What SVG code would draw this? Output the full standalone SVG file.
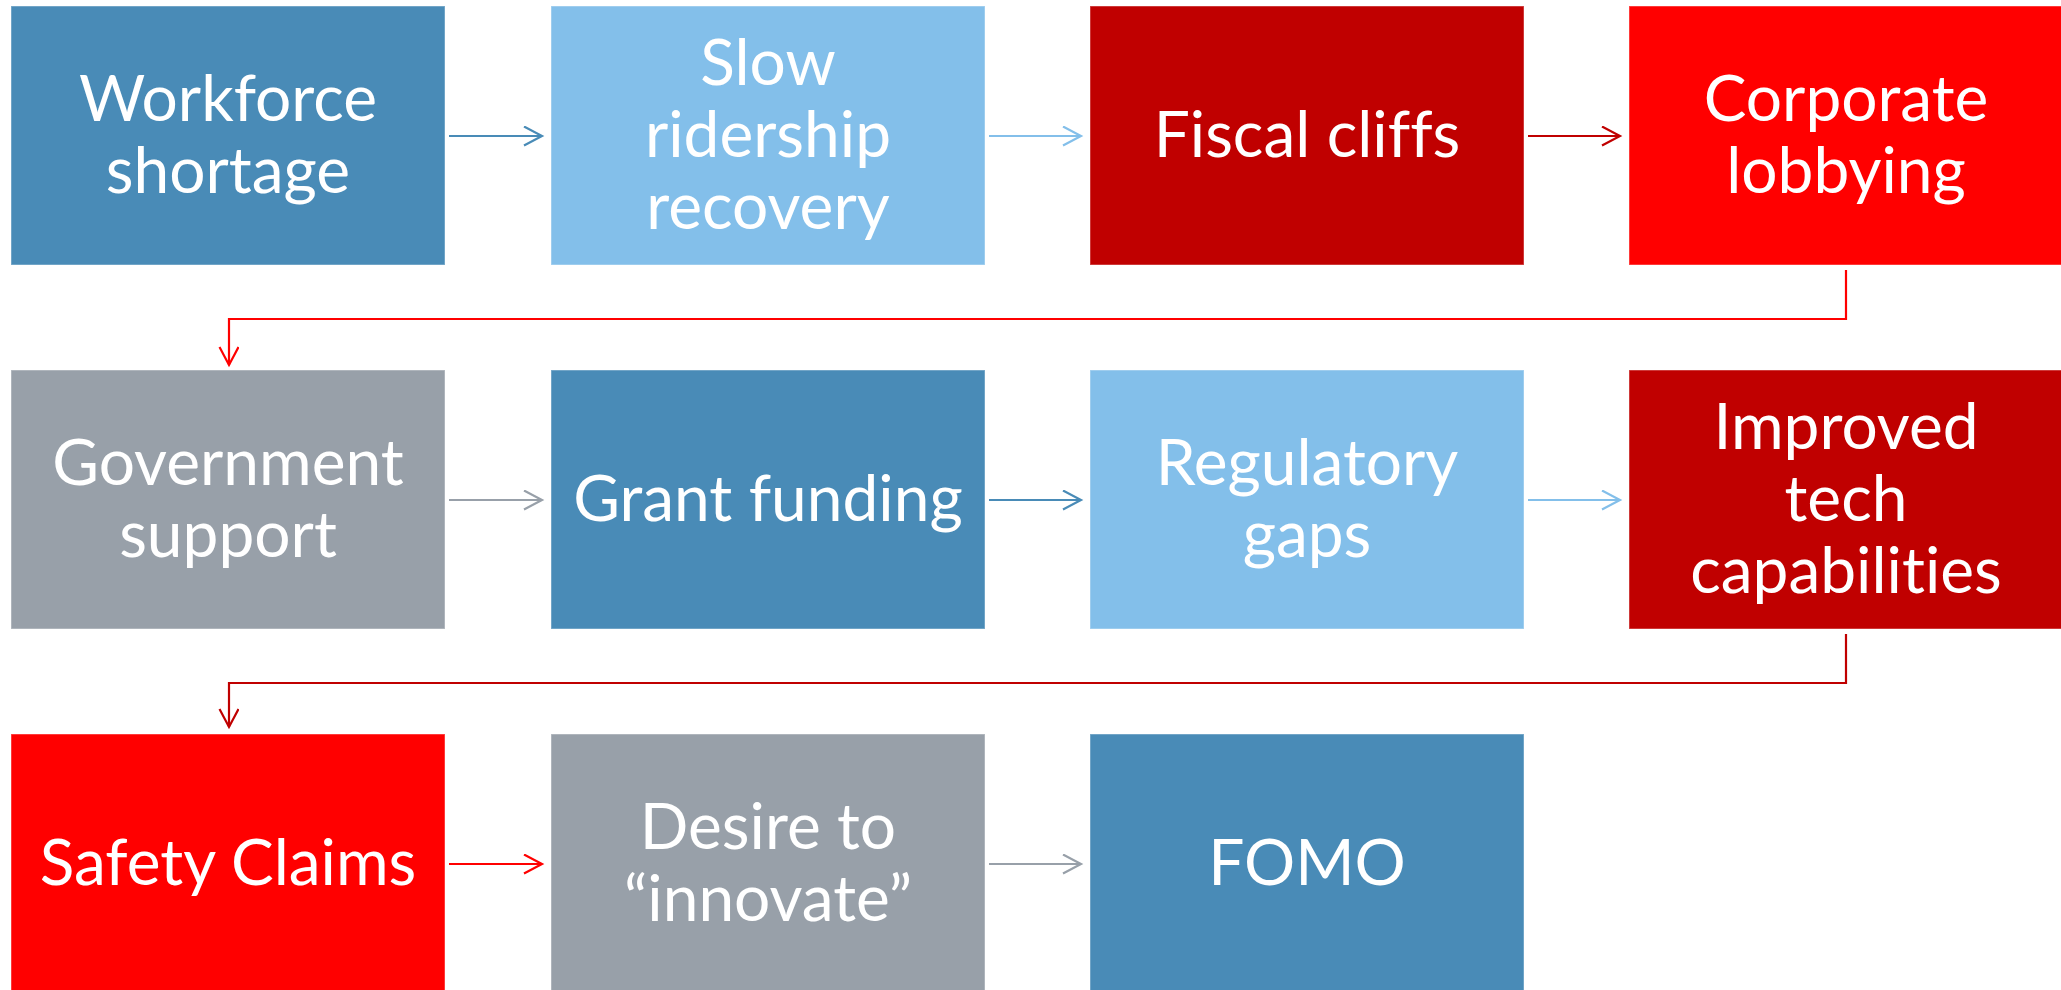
<svg xmlns="http://www.w3.org/2000/svg" width="2061" height="990" viewBox="0 0 2061 990">
<style>
.box{stroke:#ffffff;stroke-opacity:0.3;stroke-width:1.5}
.t{font-family:Lato,"Open Sans","Liberation Sans",sans-serif;font-size:64px;fill:#ffffff;text-anchor:middle;font-variant-ligatures:none;font-feature-settings:"liga" 0}
.c{fill:none;stroke-width:2.2}
.blue{fill:#498BB7}.lblue{fill:#83BFEA}.dred{fill:#C00000}.red{fill:#FF0000}.gray{fill:#98A0A9}
</style>
<defs>
<marker id="mBlue" markerUnits="userSpaceOnUse" markerWidth="22" markerHeight="24" refX="19" refY="10" orient="auto"><path d="M1,0.5 L19,10 L1,19.5" fill="none" stroke="#498BB7" stroke-width="2.2"/></marker>
<marker id="mLBlue" markerUnits="userSpaceOnUse" markerWidth="22" markerHeight="24" refX="19" refY="10" orient="auto"><path d="M1,0.5 L19,10 L1,19.5" fill="none" stroke="#83BFEA" stroke-width="2.2"/></marker>
<marker id="mDRed" markerUnits="userSpaceOnUse" markerWidth="22" markerHeight="24" refX="19" refY="10" orient="auto"><path d="M1,0.5 L19,10 L1,19.5" fill="none" stroke="#C00000" stroke-width="2.2"/></marker>
<marker id="mRed" markerUnits="userSpaceOnUse" markerWidth="22" markerHeight="24" refX="19" refY="10" orient="auto"><path d="M1,0.5 L19,10 L1,19.5" fill="none" stroke="#FF0000" stroke-width="2.2"/></marker>
<marker id="mGray" markerUnits="userSpaceOnUse" markerWidth="22" markerHeight="24" refX="19" refY="10" orient="auto"><path d="M1,0.5 L19,10 L1,19.5" fill="none" stroke="#98A0A9" stroke-width="2.2"/></marker>
</defs>
<rect width="2061" height="990" fill="#ffffff"/>

<g id="n1"><rect class="box blue" x="11" y="6" width="434" height="259"/><text class="t" x="228" y="121">Workforce</text><text class="t" x="228" y="193">shortage</text></g>
<g id="n2"><rect class="box lblue" x="551" y="6" width="434" height="259"/><text class="t" x="768" y="85">Slow</text><text class="t" x="768" y="157">ridership</text><text class="t" x="768" y="229">recovery</text></g>
<g id="n3"><rect class="box dred" x="1090" y="6" width="434" height="259"/><text class="t" x="1307" y="157">Fiscal cliffs</text></g>
<g id="n4"><rect class="box red" x="1629" y="6" width="434" height="259"/><text class="t" x="1846" y="121">Corporate</text><text class="t" x="1846" y="193">lobbying</text></g>

<g id="n5"><rect class="box gray" x="11" y="370" width="434" height="259"/><text class="t" x="228" y="485">Government</text><text class="t" x="228" y="557">support</text></g>
<g id="n6"><rect class="box blue" x="551" y="370" width="434" height="259"/><text class="t" x="768" y="521">Grant funding</text></g>
<g id="n7"><rect class="box lblue" x="1090" y="370" width="434" height="259"/><text class="t" x="1307" y="485">Regulatory</text><text class="t" x="1307" y="557">gaps</text></g>
<g id="n8"><rect class="box dred" x="1629" y="370" width="434" height="259"/><text class="t" x="1846" y="449">Improved</text><text class="t" x="1846" y="521">tech</text><text class="t" x="1846" y="593">capabilities</text></g>

<g id="n9"><rect class="box red" x="11" y="734" width="434" height="259"/><text class="t" x="228" y="885">Safety Claims</text></g>
<g id="n10"><rect class="box gray" x="551" y="734" width="434" height="259"/><text class="t" x="768" y="849">Desire to</text><text class="t" x="768" y="921">“innovate”</text></g>
<g id="n11"><rect class="box blue" x="1090" y="734" width="434" height="259"/><text class="t" x="1307" y="885">FOMO</text></g>

<g id="connectors">
<path class="c" d="M449,136 H542" stroke="#498BB7" marker-end="url(#mBlue)"/>
<path class="c" d="M989,136 H1081" stroke="#83BFEA" marker-end="url(#mLBlue)"/>
<path class="c" d="M1528,136 H1620" stroke="#C00000" marker-end="url(#mDRed)"/>
<path class="c" d="M1846,270 V319 H229 V365" stroke="#FF0000" marker-end="url(#mRed)"/>
<path class="c" d="M449,500 H542" stroke="#98A0A9" marker-end="url(#mGray)"/>
<path class="c" d="M989,500 H1081" stroke="#498BB7" marker-end="url(#mBlue)"/>
<path class="c" d="M1528,500 H1620" stroke="#83BFEA" marker-end="url(#mLBlue)"/>
<path class="c" d="M1846,634 V683 H229 V727" stroke="#C00000" marker-end="url(#mDRed)"/>
<path class="c" d="M449,864 H542" stroke="#FF0000" marker-end="url(#mRed)"/>
<path class="c" d="M989,864 H1081" stroke="#98A0A9" marker-end="url(#mGray)"/>
</g>
</svg>
